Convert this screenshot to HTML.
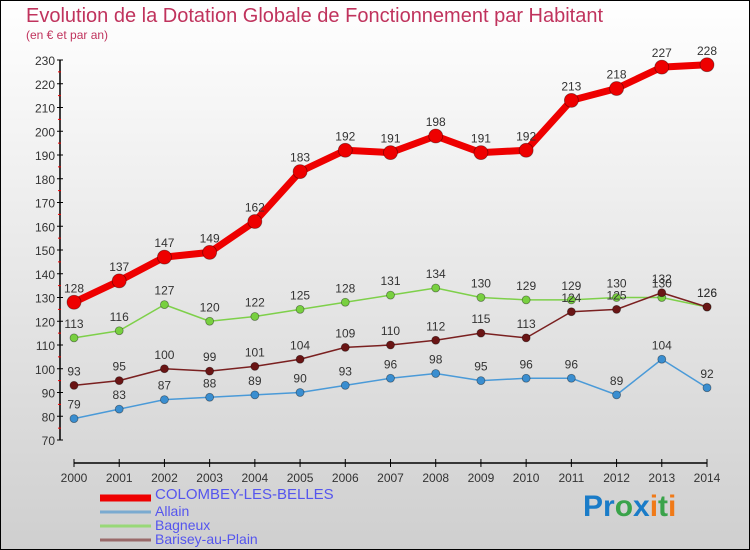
<!DOCTYPE html>
<html><head><meta charset="utf-8"><style>
body{margin:0;width:750px;height:550px;overflow:hidden;font-family:"Liberation Sans",sans-serif}
svg{display:block}
</style></head><body>
<svg width="750" height="550" xmlns="http://www.w3.org/2000/svg">
<defs><linearGradient id="bg" x1="0" y1="0" x2="0" y2="1"><stop offset="0" stop-color="#ffffff"/><stop offset="1" stop-color="#cfcfcf"/></linearGradient></defs>
<rect x="0.5" y="0.5" width="749" height="549" fill="url(#bg)" stroke="#000"/>
<text x="26" y="22" font-size="20" fill="#c0335d">Evolution de la Dotation Globale de Fonctionnement par Habitant</text>
<text x="26" y="39" font-size="12" fill="#c0335d">(en € et par an)</text>
<g id="axes"></g><g id="series"></g><g id="legend"></g>
<text x="583" y="516" font-size="30" font-weight="bold"><tspan fill="#1a7cc8">Pr</tspan><tspan fill="#3aa34a">o</tspan><tspan fill="#1a7cc8">x</tspan><tspan fill="#f07a18">i</tspan><tspan fill="#3aa34a">t</tspan><tspan fill="#f07a18">i</tspan></text>
</svg>
<script>
const years=[2000,2001,2002,2003,2004,2005,2006,2007,2008,2009,2010,2011,2012,2013,2014];
const colombey=[128,137,147,149,162,183,192,191,198,191,192,213,218,227,228];
const allain=[79,83,87,88,89,90,93,96,98,95,96,96,89,104,92];
const bagneux=[113,116,127,120,122,125,128,131,134,130,129,129,130,130,126];
const barisey=[93,95,100,99,101,104,109,110,112,115,113,124,125,132,126];
const yTicks=[70,80,90,100,110,120,130,140,150,160,170,180,190,200,210,220,230];
const NS="http://www.w3.org/2000/svg";
const x=i=>74+i*(707-74)/14;
const y=v=>440-(v-70)*380/160;
function mk(t,a,p){const e=document.createElementNS(NS,t);for(const k in a)e.setAttribute(k,a[k]);p.appendChild(e);return e;}
const ax=document.getElementById('axes');
let l=mk('line',{x1:60,y1:60,x2:60,y2:440,stroke:'#000','stroke-width':1.5},ax);


yTicks.forEach(v=>{
 mk('line',{x1:57,y1:y(v),x2:63,y2:y(v),stroke:'#000'},ax);
 if(v<230)mk('line',{x1:58,y1:y(v+5),x2:61,y2:y(v+5),stroke:'#e00'},ax);
 const t=mk('text',{x:55,y:y(v)+5,'font-size':12,fill:'#333','text-anchor':'end'},ax);t.textContent=v;
 
 
});
l=mk('line',{x1:74,y1:463,x2:707,y2:463,stroke:'#000','stroke-width':1.5},ax);


years.forEach((yr,i)=>{
 mk('line',{x1:x(i),y1:459,x2:x(i),y2:467,stroke:'#000'},ax);
 const t=mk('text',{x:x(i),y:482,'font-size':12,fill:'#333','text-anchor':'middle'},ax);t.textContent=yr;
 
 
});
const sg=document.getElementById('series');
function draw(data,color,dot,w,r,name){
 const g=mk('g',{},sg);
 
 
 const p=mk('polyline',{points:data.map((v,i)=>x(i)+','+y(v)).join(' '),fill:'none',stroke:color,'stroke-width':w,'stroke-linejoin':'round'},g);
 
 
 data.forEach((v,i)=>{
  const c=mk('circle',{cx:x(i),cy:y(v),r:r,fill:dot,stroke:'rgba(0,0,0,0.4)','stroke-width':0.8},g);
  
  
  const t=mk('text',{x:x(i),y:y(v)-10,'font-size':12,fill:'#333','text-anchor':'middle'},g);t.textContent=v;
  
  
 });
}
draw(allain,'#4a9ad8','#3a8ed0',1.5,4,'allain');
draw(bagneux,'#7ed04a','#78d040',1.5,4,'bagneux');
draw(barisey,'#7a2020','#6a1515',1.5,4,'barisey');
draw(colombey,'#ee0000','#ee0000',7,7,'colombey');
const lg=document.getElementById('legend');
const items=[['COLOMBEY-LES-BELLES','#ee0000',7,'colombey'],['Allain','#7aaad0',3,'allain'],['Bagneux','#98d878',3,'bagneux'],['Barisey-au-Plain','#9a6a6a',3,'barisey']];
items.forEach((it,i)=>{
 const yy=[493,510,524,538][i];
 const g=mk('g',{},lg);
 
 
 mk('line',{x1:100,y1:yy+5-(i?3:0),x2:151,y2:yy+5-(i?3:0),stroke:it[1],'stroke-width':it[2]},g);
 const t=mk('text',{x:155,y:yy+6,'font-size':i?14:15,fill:'#5555ee'},g);t.textContent=it[0];
});
</script>
</body></html>
